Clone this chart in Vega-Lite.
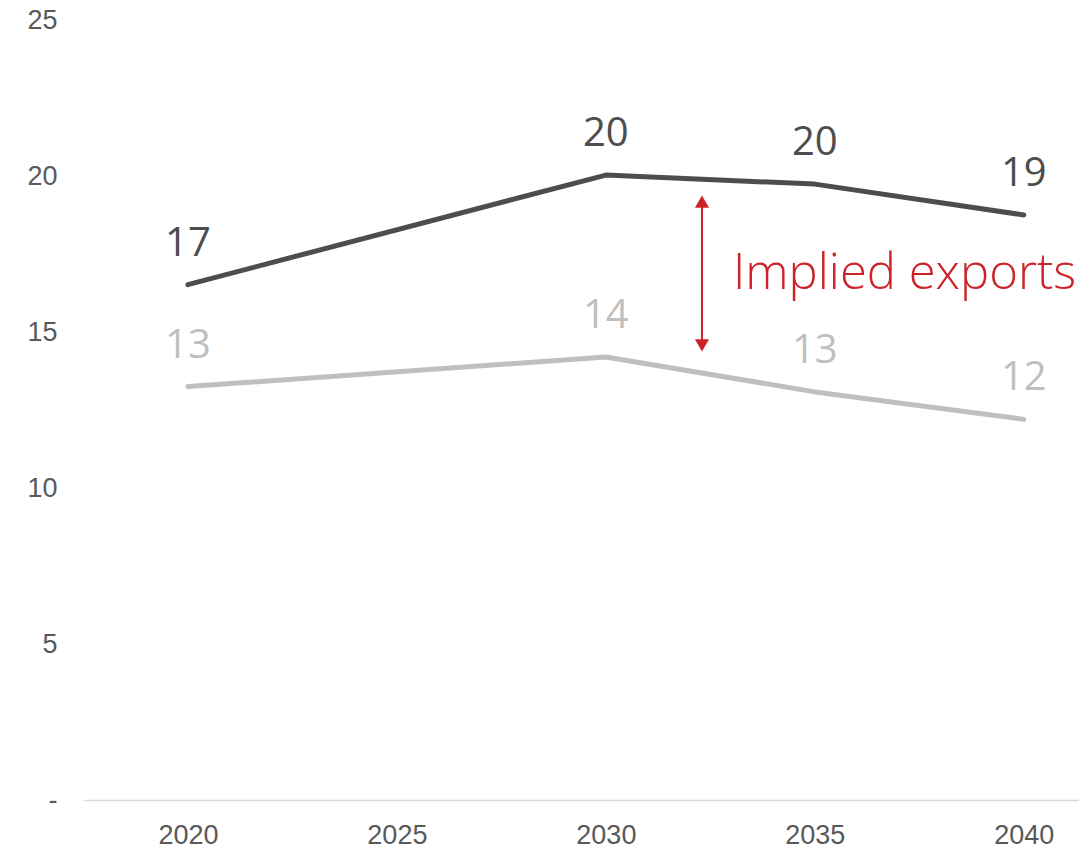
{
  "$schema": "https://vega.github.io/schema/vega-lite/v6.json",
  "width": 996,
  "height": 780,
  "autosize": {"type": "none"},
  "padding": {"left": 83, "top": 20, "right": 0, "bottom": 52},
  "background": "white",
  "config": {"view": {"stroke": null}},
  "datasets": {
    "series": [
      {"year": 2020, "series": "Total", "value": 16.52},
      {"year": 2030, "series": "Total", "value": 20.03},
      {"year": 2035, "series": "Total", "value": 19.74},
      {"year": 2040, "series": "Total", "value": 18.75},
      {"year": 2020, "series": "Domestic", "value": 13.25},
      {"year": 2030, "series": "Domestic", "value": 14.2},
      {"year": 2035, "series": "Domestic", "value": 13.08},
      {"year": 2040, "series": "Domestic", "value": 12.2}
    ],
    "arrow": [
      {"year": 2032.3, "top": 19.18, "bottom": 14.57}
    ],
    "note": [
      {"year": 2033.04, "value": 16.38, "text": "Implied exports"}
    ]
  },
  "layer": [
    {
      "data": {"name": "series"},
      "mark": {"type": "line", "strokeWidth": 5, "strokeCap": "round", "strokeJoin": "round"},
      "encoding": {
        "x": {
          "field": "year", "type": "quantitative",
          "scale": {"domain": [2017.49, 2041.32], "nice": false, "zero": false},
          "axis": {
            "title": null, "values": [2020, 2025, 2030, 2035, 2040], "format": "d",
            "grid": false, "ticks": false, "domainColor": "#d9d9d9", "domainWidth": 1.5,
            "labelFont": "Liberation Sans", "labelFontSize": 27, "labelColor": "#595959",
            "labelPadding": 22
          }
        },
        "y": {
          "field": "value", "type": "quantitative",
          "scale": {"domain": [0, 25], "nice": false},
          "axis": {
            "title": null, "values": [0, 5, 10, 15, 20, 25],
            "labelExpr": "datum.value == 0 ? '-' : datum.label",
            "grid": false, "ticks": false, "domain": false,
            "labelFont": "Liberation Sans", "labelFontSize": 27, "labelColor": "#595959",
            "labelPadding": 26
          }
        },
        "color": {
          "field": "series", "type": "nominal",
          "scale": {"domain": ["Total", "Domestic"], "range": ["#4d4d4d", "#bfbfbf"]},
          "legend": null
        },
        "detail": {"field": "series"}
      }
    },
    {
      "data": {"name": "series"},
      "mark": {"type": "text", "font": "Open Sans", "fontSize": 40, "baseline": "alphabetic", "align": "center", "dy": -29},
      "encoding": {
        "x": {"field": "year", "type": "quantitative"},
        "y": {"field": "value", "type": "quantitative"},
        "text": {"field": "value", "type": "quantitative", "format": ".0f"},
        "color": {"field": "series", "type": "nominal", "legend": null}
      }
    },
    {
      "data": {"name": "arrow"},
      "mark": {"type": "rule", "color": "#cc2229", "strokeWidth": 2},
      "encoding": {
        "x": {"field": "year", "type": "quantitative"},
        "y": {"field": "top", "type": "quantitative"},
        "y2": {"field": "bottom"}
      }
    },
    {
      "data": {"name": "arrow"},
      "mark": {"type": "point", "shape": "triangle-up", "size": 200, "filled": true, "color": "#cc2229", "opacity": 1},
      "encoding": {
        "x": {"field": "year", "type": "quantitative"},
        "y": {"field": "top", "type": "quantitative"}
      }
    },
    {
      "data": {"name": "arrow"},
      "mark": {"type": "point", "shape": "triangle-down", "size": 200, "filled": true, "color": "#cc2229", "opacity": 1},
      "encoding": {
        "x": {"field": "year", "type": "quantitative"},
        "y": {"field": "bottom", "type": "quantitative"}
      }
    },
    {
      "data": {"name": "note"},
      "mark": {"type": "text", "font": "Open Sans", "fontWeight": 300, "fontSize": 49, "baseline": "alphabetic", "align": "left", "color": "#cc2229"},
      "encoding": {
        "x": {"field": "year", "type": "quantitative"},
        "y": {"field": "value", "type": "quantitative"},
        "text": {"field": "text"}
      }
    }
  ]
}
